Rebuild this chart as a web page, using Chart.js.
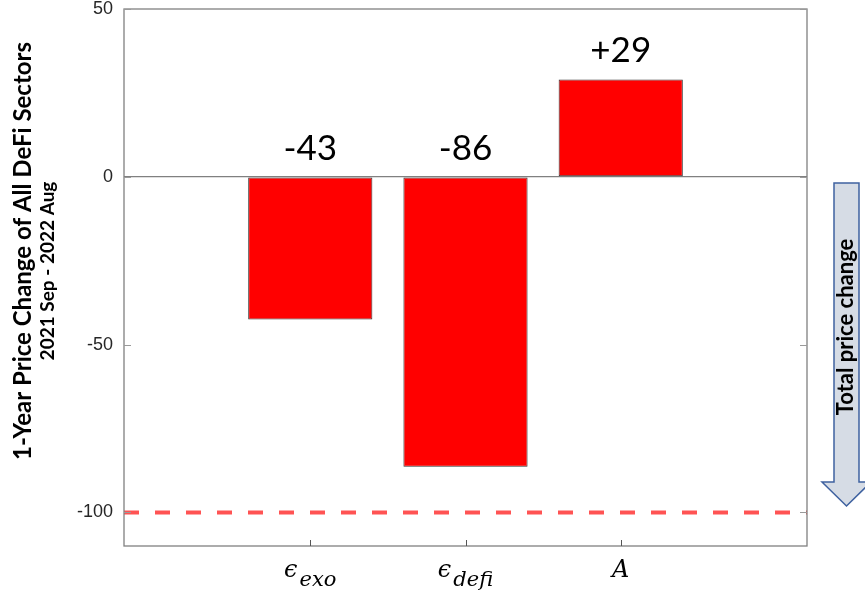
<!DOCTYPE html>
<html>
<head>
<meta charset="utf-8">
<title>1-Year Price Change of All DeFi Sectors</title>
<script src="https://cdn.jsdelivr.net/npm/chart.js@4.4.0/dist/chart.umd.min.js"></script>
<style>
  html, body { margin: 0; padding: 0; background: #fff; }
  #box { width: 865px; height: 595px; }
</style>
</head>
<body>
<div id="box"><canvas id="bars"></canvas></div>
<script>
let positions = [1, 2, 3];
let symbols = ["ϵ", "ϵ", "A"];
let subscripts = ["exo", "defi", ""];
let changes = [-42.5, -86.4, 29];
let changeLabels = ["-43", "-86", "+29"];
let yTicks = [-100, -50, 0, 50];
let floorLevel = -100;

let titleMain = "1-Year Price Change of All DeFi Sectors";
let titleSub = "2021 Sep - 2022 Aug";
let arrowText = "Total price change";

let points = positions.map((p, i) => ({ x: p, y: changes[i] }));

// everything the axes cannot do by themselves: box, inward ticks, labels, arrow
let decor = {
  id: "decor",
  afterDraw(chart) {
    let ctx = chart.ctx;
    let a = chart.chartArea;
    let xs = chart.scales.x;
    let ys = chart.scales.y;
    ctx.save();

    // dashed -100 line
    let yf = ys.getPixelForValue(floorLevel);
    ctx.strokeStyle = "rgba(255,40,40,0.8)";
    ctx.lineWidth = 4;
    ctx.setLineDash([15, 16]);
    ctx.beginPath();
    ctx.moveTo(a.left, yf);
    ctx.lineTo(a.right, yf);
    ctx.stroke();
    ctx.setLineDash([]);

    // plot box
    ctx.strokeStyle = "#808080";
    ctx.lineWidth = 1.3;
    ctx.strokeRect(a.left, a.top, a.right - a.left, a.bottom - a.top);

    // inward ticks
    ctx.strokeStyle = "#9a9a9a";
    ctx.lineWidth = 1;
    yTicks.forEach((t) => {
      let py = Math.round(ys.getPixelForValue(t)) + 0.5;
      ctx.beginPath();
      ctx.moveTo(a.left, py);
      ctx.lineTo(a.left + 7, py);
      ctx.moveTo(a.right - 7, py);
      ctx.lineTo(a.right, py);
      ctx.stroke();
    });
    ctx.strokeStyle = "#555";
    positions.forEach((p) => {
      let px = Math.round(xs.getPixelForValue(p)) + 0.5;
      ctx.beginPath();
      ctx.moveTo(px, a.bottom);
      ctx.lineTo(px, a.bottom - 6);
      ctx.stroke();
    });

    // value labels above bars
    ctx.fillStyle = "#000";
    ctx.font = "35px Lato";
    ctx.textAlign = "center";
    ctx.textBaseline = "alphabetic";
    changes.forEach((v, i) => {
      let px = xs.getPixelForValue(positions[i]);
      let py = ys.getPixelForValue(Math.max(v, 0)) - 17;
      ctx.fillText(changeLabels[i], px, py);
    });

    // category labels with subscripts
    ctx.textAlign = "left";
    let mainFont = "italic 24px 'DejaVu Serif'";
    let subFont = "italic 21px 'DejaVu Serif'";
    positions.forEach((p, i) => {
      ctx.font = mainFont;
      let w1 = ctx.measureText(symbols[i]).width;
      ctx.font = subFont;
      let w2 = subscripts[i] ? ctx.measureText(subscripts[i]).width + 2 : 0;
      let x0 = xs.getPixelForValue(p) - (w1 + w2) / 2;
      ctx.font = mainFont;
      ctx.fillText(symbols[i], x0, a.bottom + 31);
      if (subscripts[i]) {
        ctx.font = subFont;
        ctx.fillText(subscripts[i], x0 + w1 + 2, a.bottom + 40);
      }
    });

    // y axis titles
    ctx.textAlign = "center";
    ctx.textBaseline = "middle";
    ctx.save();
    ctx.translate(23, 251);
    ctx.rotate(-Math.PI / 2);
    ctx.font = "bold 24px Lato";
    ctx.fillText(titleMain, 0, 0);
    ctx.restore();
    ctx.save();
    ctx.translate(48, 271);
    ctx.rotate(-Math.PI / 2);
    ctx.font = "bold 19px Lato";
    ctx.fillText(titleSub, 0, 0);
    ctx.restore();

    // arrow on the right
    ctx.beginPath();
    ctx.moveTo(834, 183);
    ctx.lineTo(859, 183);
    ctx.lineTo(859, 482);
    ctx.lineTo(871, 482);
    ctx.lineTo(846.5, 506);
    ctx.lineTo(822, 482);
    ctx.lineTo(834, 482);
    ctx.closePath();
    ctx.fillStyle = "#d6dce5";
    ctx.fill();
    ctx.strokeStyle = "#3f62a0";
    ctx.lineWidth = 1.5;
    ctx.stroke();

    ctx.fillStyle = "#000";
    ctx.save();
    ctx.translate(846, 327);
    ctx.rotate(-Math.PI / 2);
    ctx.font = "bold 22px Lato";
    ctx.fillText(arrowText, 0, 0);
    ctx.restore();

    ctx.restore();
  },
};

let ctx1 = document.getElementById("bars").getContext("2d");
let bars = new Chart(ctx1, {
  type: "bar",
  data: {
    datasets: [
      {
        data: points,
        backgroundColor: "#ff0000",
        borderColor: "#333333",
        borderWidth: 1,
        borderSkipped: false,
        categoryPercentage: 1,
        barPercentage: 0.8,
      },
    ],
  },
  options: {
    responsive: true,
    maintainAspectRatio: false,
    animation: false,
    layout: {
      padding: { top: 9, right: 58, left: 0, bottom: 0 },
    },
    plugins: {
      legend: { display: false },
      tooltip: { enabled: false },
    },
    scales: {
      x: {
        type: "linear",
        min: -0.2,
        max: 4.2,
        offset: false,
        afterBuildTicks: (scale) => {
          scale.ticks = positions.map((p) => ({ value: p }));
        },
        afterFit: (scale) => {
          scale.height = 49;
          scale.paddingLeft = 0;
          scale.paddingRight = 0;
        },
        ticks: { display: false },
        grid: { display: false },
        border: { display: false },
      },
      y: {
        min: -110,
        max: 50,
        afterBuildTicks: (scale) => {
          scale.ticks = yTicks.map((t) => ({ value: t }));
        },
        afterFit: (scale) => {
          scale.width = 124;
          scale.paddingTop = 0;
          scale.paddingBottom = 0;
        },
        ticks: {
          padding: 11,
          color: "#262626",
          font: { family: "'Liberation Sans', Arial", size: 18 },
        },
        grid: {
          drawTicks: false,
          lineWidth: 1.3,
          color: (c) => (c.tick && c.tick.value === 0 ? "#808080" : "rgba(0,0,0,0)"),
        },
        border: { display: false },
      },
    },
  },
  plugins: [decor],
});
</script>
</body>
</html>
